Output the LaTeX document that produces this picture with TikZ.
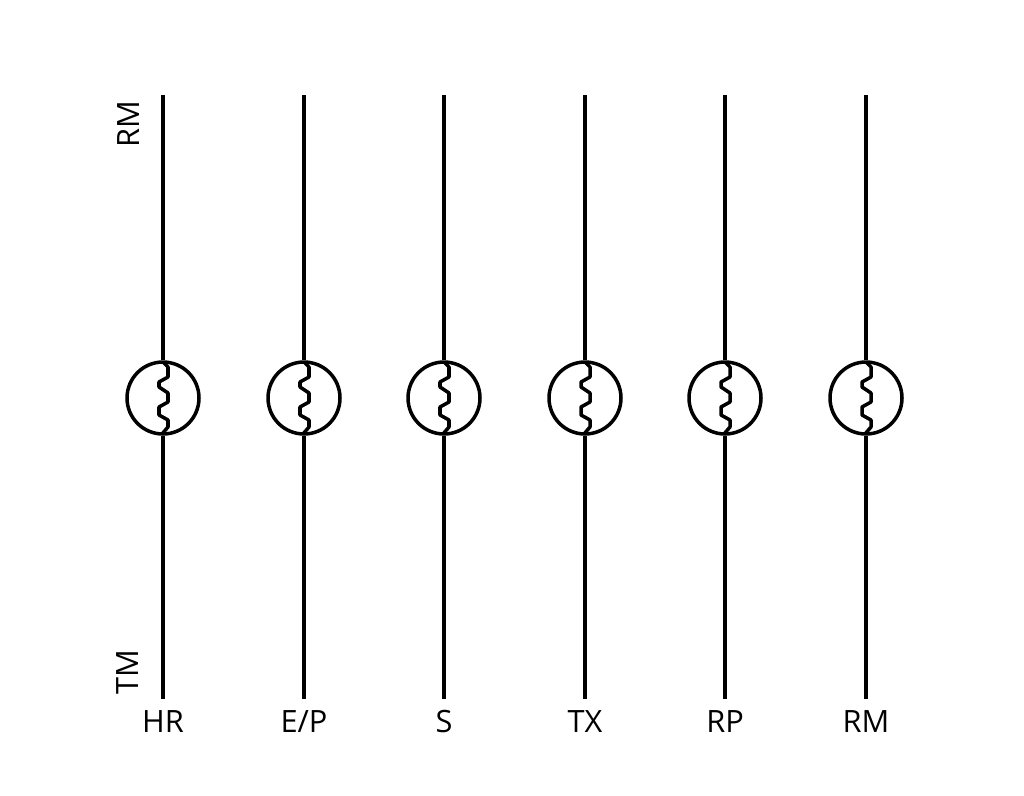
\documentclass[tikz,border=0pt]{standalone}
\usepackage{fontspec}
\setmainfont{Open Sans}
\tikzset{
  wire/.style={line width=2pt},
  lamp/.style={circle,draw,line width=2pt,minimum size=1.44cm,inner sep=0pt},
  lab/.style={font=\fontsize{17.5}{20}\selectfont,inner sep=0pt},
}
\begin{document}
\begin{tikzpicture}[x=0.02cm,y=-0.02cm]

\useasboundingbox (0,0) rectangle (1024,795) ;

% side labels
\node[lab,rotate=90] (rm_side) at (129,124) {RM} ;
\node[lab,rotate=90] (tm_side) at (128,672) {TM} ;

\foreach \xx/\lab [count=\i] in {163/HR,304/{E/P},444/S,585/TX,725/RP,866/RM} {
  \coordinate (top\i) at (\xx,95) ;
  \coordinate (bot\i) at (\xx,699) ;
  \node[lamp] (lamp\i) at (\xx,398) {} ;
  \node[lab,anchor=base] (name\i) at (\xx,732) {\lab} ;
  \draw[wire] (top\i) -- (lamp\i.north) ;
  \draw[wire] (lamp\i.south) -- (bot\i) ;
  % filament
  \begin{scope}[shift={(lamp\i.center)}]
    \draw[wire,line join=round] (0,-36) -- (5,-31) -- (5,-21) -- (-4,-16) -- (-4,-11)
      -- (5,-5) -- (5,4) -- (-4,9) -- (-4,17) -- (5,22) -- (5,29) -- (-1,36) ;
  \end{scope}
}

\end{tikzpicture}
\end{document}
